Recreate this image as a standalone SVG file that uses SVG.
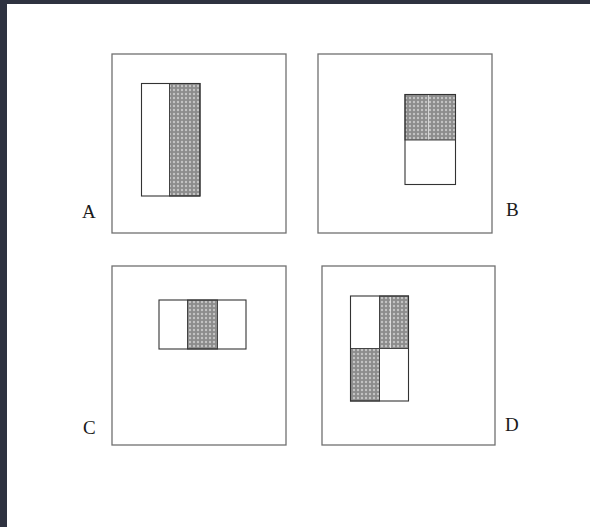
<svg xmlns="http://www.w3.org/2000/svg" width="590" height="527" viewBox="0 0 590 527">
<style>
.frame{fill:none;stroke:#707070;stroke-width:1.3}
.win{fill:none;stroke:#333;stroke-width:1.1}
.shade{fill:url(#hatch);stroke:#444;stroke-width:1}
.lbl{font-family:"Liberation Serif","Times New Roman",serif;font-size:19px;fill:#1a1a1a}
</style>
<defs>
<pattern id="hatch" width="4" height="4" patternUnits="userSpaceOnUse">
<rect width="4" height="4" fill="#8c8c8c"/>
<circle cx="2" cy="2" r="1.2" fill="#c4c4c4"/>
</pattern>
</defs>
<rect width="590" height="527" fill="#ffffff"/>
<rect x="0" y="0" width="590" height="4" fill="#2e3240"/>
<rect x="0" y="0" width="7" height="527" fill="#2e3240"/>
<g id="A">
<rect class="frame" x="112" y="54" width="174" height="179"/>
<rect class="shade" x="169.5" y="83.5" width="30.5" height="112.5"/>
<rect class="win" x="141.5" y="83.5" width="58.5" height="112.5"/>
<text class="lbl" x="82" y="218">A</text>
</g>
<g id="B">
<rect class="frame" x="318" y="54" width="174" height="179"/>
<rect class="shade" x="405" y="94.5" width="50.5" height="45.5"/>
<line x1="428.5" y1="95" x2="428.5" y2="139.5" stroke="#e8e8e8" stroke-width="0.8"/>
<rect class="win" x="405" y="94.5" width="50.5" height="90"/>
<text class="lbl" x="506" y="216">B</text>
</g>
<g id="C">
<rect class="frame" x="112" y="266" width="174" height="179"/>
<rect class="shade" x="187.5" y="300" width="30" height="49"/>
<rect class="win" x="159" y="300" width="87" height="49"/>
<text class="lbl" x="83" y="434">C</text>
</g>
<g id="D">
<rect class="frame" x="322" y="266" width="173" height="179"/>
<rect class="shade" x="379.5" y="296" width="29" height="52.5"/>
<rect class="shade" x="350.5" y="348.5" width="29" height="52.5"/>
<line x1="390.5" y1="297" x2="390.5" y2="348" stroke="#e8e8e8" stroke-width="0.8"/>
<rect class="win" x="350.5" y="296" width="58" height="105"/>
<text class="lbl" x="505" y="431">D</text>
</g>
</svg>
